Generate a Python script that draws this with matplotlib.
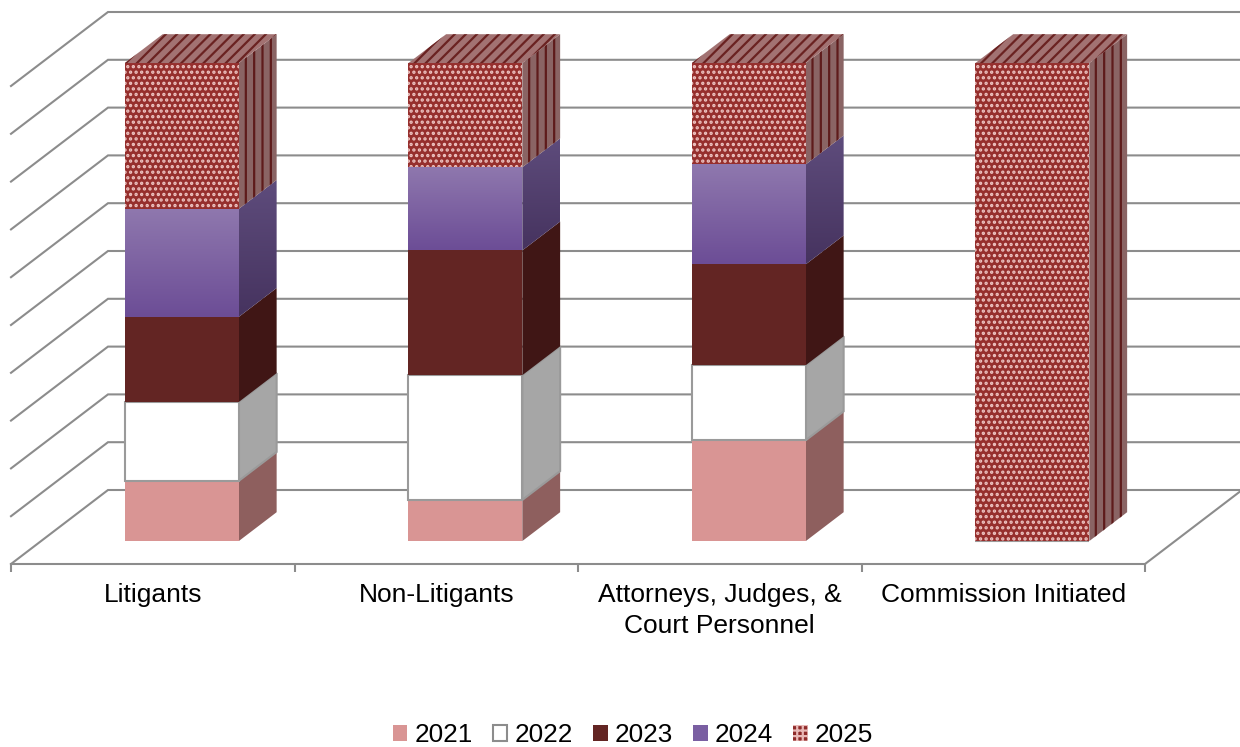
import numpy as np
import matplotlib
matplotlib.use("Agg")
import matplotlib.pyplot as plt
from matplotlib.patches import Polygon, Patch

# ---- data (percent of each category) ----
categories = ["Litigants", "Non-Litigants", "Attorneys, Judges, &\nCourt Personnel", "Commission Initiated"]
years = ["2021", "2022", "2023", "2024", "2025"]
v2021 = [12.6, 8.6, 21.1, 0.0]
v2022 = [16.5, 26.1, 15.7, 0.0]
v2023 = [17.8, 26.1, 21.1, 0.0]
v2024 = [22.6, 17.4, 20.9, 0.0]
v2025 = [30.5, 21.8, 21.2, 100.0]
grid_levels = [0, 10, 20, 30, 40, 50, 60, 70, 80, 90, 100]
series = [v2021, v2022, v2023, v2024, v2025]

plt.rcParams["font.family"] = ["Liberation Sans", "DejaVu Sans"]
plt.rcParams["hatch.linewidth"] = 1.6

W, H = 1240, 747
fig = plt.figure(figsize=(W / 100, H / 100), dpi=100)
ax = fig.add_axes([0, 0, 1, 1])

# scale: one category = 283.5 px, 100 % = 478 px
PXX, PXY = 283.5, 4.78
X0, Y0 = 11, 564
ax.set_xlim(-X0 / PXX, (W - X0) / PXX)
ax.set_ylim((Y0 - H) / PXY, Y0 / PXY)
ax.set_autoscale_on(False)
DX, DY = 97 / PXX, 74 / PXY   # full-floor depth vector


def proj(x, y, d):
    return (x + d * DX, y + d * DY)


GRID = "#8c8c8c"
LW = 1.5
for g in grid_levels:
    ax.plot([proj(0, g, 0)[0], proj(0, g, 1)[0], proj(4, g, 1)[0]],
            [proj(0, g, 0)[1], proj(0, g, 1)[1], proj(4, g, 1)[1]],
            color=GRID, lw=LW, zorder=1, solid_joinstyle="miter", clip_on=False)
ax.plot([proj(4, 0, 0)[0], proj(4, 0, 1)[0]], [proj(4, 0, 0)[1], proj(4, 0, 1)[1]],
        color=GRID, lw=LW, zorder=1)

BW = 0.402
CENTER = 0.4965
D0, D1 = 0.31, 0.70


def gradient(poly_pts, top, bottom, z):
    pts = np.array(poly_pts)
    c0 = np.array(matplotlib.colors.to_rgb(top))
    c1 = np.array(matplotlib.colors.to_rgb(bottom))
    t = np.linspace(0, 1, 128)[:, None]
    img = (c0 * (1 - t) + c1 * t)[:, None, :]
    im = ax.imshow(img, extent=[pts[:, 0].min(), pts[:, 0].max(), pts[:, 1].min(), pts[:, 1].max()],
                   aspect="auto", origin="upper", zorder=z, interpolation="bilinear")
    p = Polygon(poly_pts, closed=True, transform=ax.transData, fill=False, lw=0)
    ax.add_patch(p)
    im.set_clip_path(p)


DOT = dict(facecolor="#962f2d", edgecolor="#eec4c2", hatch="...", lw=0)
SIDE = dict(facecolor="#8a6464", edgecolor="#5e1b1b", hatch="||", lw=0)
TOP = dict(facecolor="#a27272", edgecolor="#6a2221", hatch="///", lw=0)

styles = [
    dict(front="#d99594", side="#8e5f5e"),
    dict(front="#ffffff", side="#a6a6a6", edge="#9a9a9a"),
    dict(front="#632523", side="#401615"),
    dict(grad=("#8f78ae", "#6c4d96"), sgrad=("#5e4c7c", "#46335f")),
    dict(pattern=True),
]

for i in range(len(categories)):
    xl = i + CENTER - BW / 2
    xr = i + CENTER + BW / 2
    base = 0.0
    z = 3
    for vals, st in zip(series, styles):
        v = vals[i]
        top = base + v
        # zero-height segments only leave their outline
        if v == 0 and "edge" not in st:
            continue
        fr = [proj(xl, base, D0), proj(xr, base, D0), proj(xr, top, D0), proj(xl, top, D0)]
        sd = [proj(xr, base, D0), proj(xr, base, D1), proj(xr, top, D1), proj(xr, top, D0)]
        if "pattern" in st:
            ax.add_patch(Polygon(sd, closed=True, zorder=z, **SIDE))
            ax.add_patch(Polygon(fr, closed=True, zorder=z + 0.2, **DOT))
        elif "grad" in st:
            gradient(sd, *st["sgrad"], z)
            gradient(fr, *st["grad"], z + 0.2)
        else:
            ec = st.get("edge", "none")
            lw = 1.5 if "edge" in st else 0
            if v > 0:
                ax.add_patch(Polygon(sd, closed=True, facecolor=st["side"], edgecolor=ec, lw=lw, zorder=z))
            ax.add_patch(Polygon(fr, closed=True, facecolor=st["front"], edgecolor=ec, lw=lw, zorder=z + 0.2))
        base = top
        z += 1
    tp = [proj(xl, base, D0), proj(xr, base, D0), proj(xr, base, D1), proj(xl, base, D1)]
    ax.add_patch(Polygon(tp, closed=True, zorder=z, **TOP))

# category axis
for s in ["left", "right", "top"]:
    ax.spines[s].set_visible(False)
ax.spines["bottom"].set_position(("data", 0))
ax.spines["bottom"].set_bounds(0, 4)
ax.spines["bottom"].set_color(GRID)
ax.spines["bottom"].set_linewidth(LW)
ax.spines["bottom"].set_zorder(2)
ax.yaxis.set_visible(False)
ax.set_xticks(range(len(categories) + 1))
ax.set_xticklabels([])
ax.set_xticks(np.arange(len(categories)) + 0.5, minor=True)
ax.set_xticklabels(categories, minor=True, fontsize=19, color="black", linespacing=1.32)
ax.tick_params(axis="x", which="major", length=6, width=LW, color=GRID)
ax.tick_params(axis="x", which="minor", length=0, pad=14)

# legend
handles = [
    Patch(facecolor="#d99594", edgecolor="none"),
    Patch(facecolor="#ffffff", edgecolor="#8c8c8c", lw=1.5),
    Patch(facecolor="#632523", edgecolor="none"),
    Patch(facecolor="#7a5fa2", edgecolor="none"),
    Patch(facecolor="#8f2b2a", edgecolor="#e8b8b6", hatch="+++", lw=0),
]
ax.legend(handles, years, ncol=5, loc="center", bbox_to_anchor=(633 / W, 1 - 735 / H),
          frameon=False, fontsize=18.8, handlelength=0.55, handleheight=0.55,
          handletextpad=0.27, columnspacing=0.78, borderpad=0, borderaxespad=0)

fig.savefig("out.png", dpi=100, facecolor="white")
